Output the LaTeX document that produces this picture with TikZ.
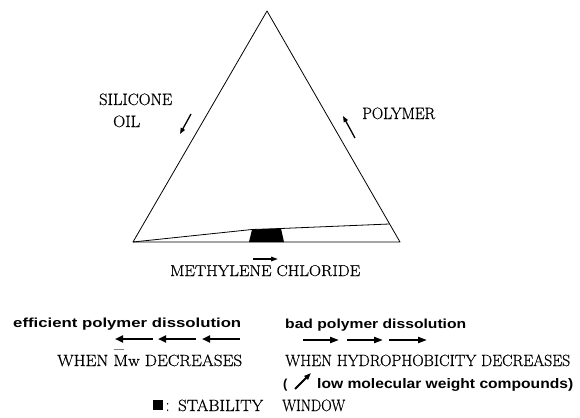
\documentclass[tikz,border=0pt]{standalone}
\usepackage{fontspec}
\newfontfamily\sansfam{Liberation Sans}
\newfontfamily\heavyserif{Latin Modern Roman}[FakeBold=0.7]
\usetikzlibrary{arrows.meta,calc}
\newcommand\fitbox[3]{\resizebox{#1pt}{#2pt}{#3}}
\newcommand\barM{\smash{\rlap{\color{gray}\rule[0.98em]{0.62em}{0.07em}}}M}
\begin{document}
\begin{tikzpicture}[x=1pt,y=-1pt,
  serif/.style={anchor=base west, inner sep=0pt, font=\heavyserif\fontsize{15}{18}\selectfont},
  sansb/.style={anchor=base west, inner sep=0pt, font=\sansfam\bfseries\fontsize{13}{16}\selectfont},
  edge/.style={line width=0.8pt, line join=round},
  bigL/.style={line width=2.6pt, -{Triangle[length=8pt,width=7pt]}},
  bigR/.style={line width=2pt, -{Triangle[length=9pt,width=6pt]}},
  small/.style={line width=1.3pt, -{Triangle[length=6pt,width=4.5pt]}}]
\path[use as bounding box] (0,0) rectangle (580,417);
% triangle
\coordinate (A) at (267,11);
\coordinate (B) at (133,242);
\coordinate (C) at (400,242);
\draw[edge] (A) -- (B) -- (C) -- cycle;
\coordinate (D) at ($(C)!0.078!(A)$);
\coordinate (P1) at (252,229.5);
\coordinate (P2) at (281,228.5);
\coordinate (Q1) at (249,242);
\coordinate (Q2) at (284,242);
\fill (Q1) -- (P1) -- (P2) -- (Q2) -- cycle;
\draw[edge] (B) -- (P1) -- (P2) -- (D);
% labels round triangle
\node[serif] (sil) at (99,105) {\fitbox{73}{11.5}{SILICONE}};
\node[serif] (oil) at (113,127) {\fitbox{27}{11.5}{OIL}};
\node[serif] (pol) at (362,119) {\fitbox{73}{11.5}{POLYMER}};
\node[serif] (mc) at (170,276) {\fitbox{190}{11}{METHYLENE CHLORIDE}};
\coordinate (s1) at (191,114); \coordinate (s2) at (180,134);
\draw[small] (s1) -- (s2);
\coordinate (p1) at (355,138); \coordinate (p2) at (343,116);
\draw[small] (p1) -- (p2);
\coordinate (m1) at (253,259); \coordinate (m2) at (278,259);
\draw[line width=1.4pt, -{Triangle[length=7pt,width=4.5pt]}] (m1) -- (m2);
% bottom legend
\node[sansb] (eff) at (13,327) {\fitbox{228}{9.5}{efficient polymer dissolution}};
\node[sansb] (bad) at (285,328) {\fitbox{181}{9.5}{bad polymer dissolution}};
\coordinate (l1a) at (153,339); \coordinate (l1b) at (115,339);
\coordinate (l2a) at (196,339); \coordinate (l2b) at (158,339);
\coordinate (l3a) at (240,339); \coordinate (l3b) at (202,339);
\draw[bigL] (l1a) -- (l1b);
\draw[bigL] (l2a) -- (l2b);
\draw[bigL] (l3a) -- (l3b);
\coordinate (r1a) at (303,340); \coordinate (r1b) at (339,340);
\coordinate (r2a) at (347,340); \coordinate (r2b) at (383,340);
\coordinate (r3a) at (389,340); \coordinate (r3b) at (427,340);
\draw[bigR] (r1a) -- (r1b);
\draw[bigR] (r2a) -- (r2b);
\draw[bigR] (r3a) -- (r3b);
\node[serif] (mw) at (57,366) {\fitbox{185}{11.5}{WHEN \barM w DECREASES}};
\node[serif] (hyd) at (285,366) {\fitbox{285}{11.5}{WHEN HYDROPHOBICITY DECREASES}};
\node[sansb] (par) at (283,388) {(};
\coordinate (w1) at (295,389); \coordinate (w2) at (311,373);
\draw[line width=2pt, -{Triangle[length=7pt,width=5pt]}] (w1) -- (w2);
\node[sansb] (low) at (317,388) {\fitbox{256}{10}{low molecular weight compounds)}};
\node[fill, minimum size=10pt, inner sep=0pt] (sq) at (158,405) {};
\node[serif] (col) at (166,411) {\fitbox{3}{8}{:}};
\node[serif] (stab) at (178,411) {\fitbox{85}{11.5}{STABILITY}};
\node[serif] (win) at (282,411) {\fitbox{63}{11.5}{WINDOW}};
\end{tikzpicture}
\end{document}
